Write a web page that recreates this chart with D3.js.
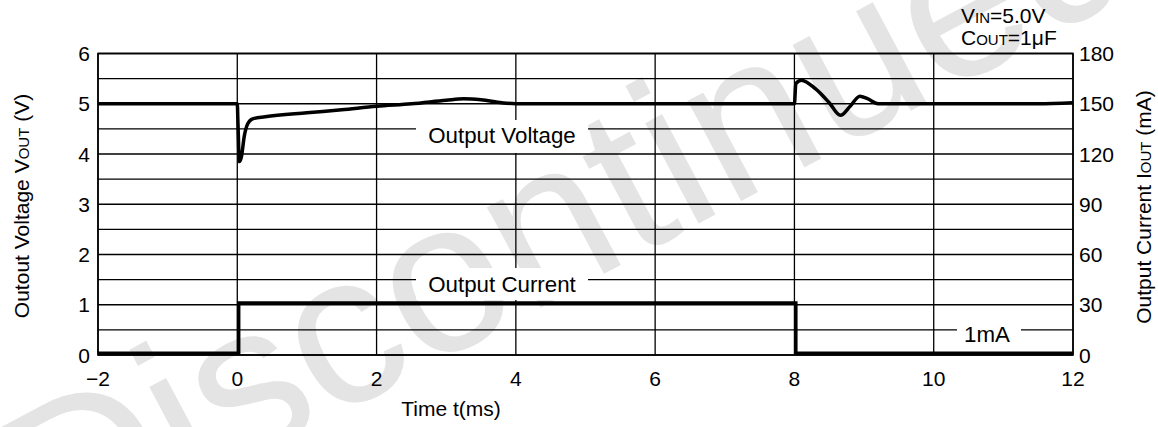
<!DOCTYPE html>
<html>
<head>
<meta charset="utf-8">
<script src="https://cdn.jsdelivr.net/npm/d3@7"></script>
<style>
  html, body { margin: 0; padding: 0; background: #fff; }
  svg { display: block; font-family: "Liberation Sans", Arial, sans-serif; }
</style>
</head>
<body>
<svg id="chart" width="1158" height="427"></svg>
<script>
// Axis ticks
const timeTicks = [-2, 0, 2, 4, 6, 8, 10, 12];
const voltTicks = [0, 1, 2, 3, 4, 5, 6];
const currTicks = [0, 30, 60, 90, 120, 150, 180];

// Output voltage trace (ms, V)
const voltTime = [-2, 0, 0.01, 0.03, 0.06, 0.1, 0.15, 0.22, 0.4, 1.0, 1.5, 2.0, 2.5, 3.0, 3.25, 3.5, 3.8, 4.0, 8.0, 8.02, 8.1, 8.3, 8.5, 8.66, 8.8, 8.94, 9.05, 9.2, 11.5, 12];
const voltValue = [5.0, 5.0, 4.6, 3.85, 3.95, 4.35, 4.6, 4.7, 4.74, 4.82, 4.88, 4.95, 5.0, 5.07, 5.1, 5.08, 5.02, 5.0, 5.0, 5.4, 5.47, 5.3, 5.02, 4.77, 4.95, 5.15, 5.1, 5.0, 5.0, 5.02];

// Output current trace (ms, mA)
const currTime = [-2, 0.02, 0.02, 8.02, 8.02, 12];
const currValue = [1, 1, 31, 31, 1, 1];

const svg = d3.select("#chart");
const plotL = 98, plotR = 1073, plotT = 53.5, plotB = 355;

const x = d3.scaleLinear().domain([-2, 12]).range([plotL, plotR]);
const yV = d3.scaleLinear().domain([0, 6]).range([plotB, plotT]);
const yI = d3.scaleLinear().domain([0, 180]).range([plotB, plotT]);

// Watermark behind the plot
svg.append("text")
  .attr("transform", "translate(575,225) rotate(-28)")
  .attr("text-anchor", "middle")
  .attr("dominant-baseline", "middle")
  .attr("font-size", 215)
  .attr("fill", "#e4e4e4")
  .text("Discontinued");

const g = svg.append("g");

// Horizontal grid every 0.5 V
const hLines = d3.range(0, 6.01, 0.5);
g.selectAll("line.h").data(hLines).join("line")
  .attr("class", "h")
  .attr("x1", plotL).attr("x2", plotR)
  .attr("y1", d => yV(d)).attr("y2", d => yV(d))
  .attr("stroke", "#000").attr("stroke-width", 1.3);

// Vertical grid at each time tick
g.selectAll("line.v").data(timeTicks).join("line")
  .attr("class", "v")
  .attr("x1", d => x(d)).attr("x2", d => x(d))
  .attr("y1", plotT).attr("y2", plotB)
  .attr("stroke", "#000").attr("stroke-width", 1.3);

// Label boxes break the grid behind the labels
const labelBoxes = [
  { text: "Output Voltage", x0: 416, x1: 588, y0: 120, y1: 153, tx: 502, ty: 143 },
  { text: "Output Current", x0: 416, x1: 588, y0: 268, y1: 300, tx: 502, ty: 292 },
  { text: "1mA", x0: 957, x1: 1021, y0: 320, y1: 346, tx: 987, ty: 342 }
];
g.selectAll("rect.lb").data(labelBoxes).join("rect")
  .attr("class", "lb")
  .attr("x", d => d.x0).attr("y", d => d.y0)
  .attr("width", d => d.x1 - d.x0).attr("height", d => d.y1 - d.y0)
  .attr("fill", "#fff");
g.selectAll("text.lb").data(labelBoxes).join("text")
  .attr("class", "lb")
  .attr("x", d => d.tx).attr("y", d => d.ty)
  .attr("text-anchor", "middle")
  .attr("font-size", 22.3)
  .text(d => d.text);

// Frame
g.append("rect")
  .attr("x", plotL).attr("y", plotT)
  .attr("width", plotR - plotL).attr("height", plotB - plotT)
  .attr("fill", "none").attr("stroke", "#000").attr("stroke-width", 1.6);

// Traces
const voltData = voltTime.map((t, i) => [t, voltValue[i]]);
const currData = currTime.map((t, i) => [t, currValue[i]]);

g.append("path")
  .datum(voltData)
  .attr("fill", "none").attr("stroke", "#000").attr("stroke-width", 3.5)
  .attr("stroke-linejoin", "round")
  .attr("d", d3.line().x(d => x(d[0])).y(d => yV(d[1])).curve(d3.curveMonotoneX));

g.append("path")
  .datum(currData)
  .attr("fill", "none").attr("stroke", "#000").attr("stroke-width", 3.5)
  .attr("d", d3.line().x(d => x(d[0])).y(d => yI(d[1])));

// Tick labels
const fs = 21;
svg.selectAll("text.xt").data(timeTicks).join("text")
  .attr("class", "xt")
  .attr("x", d => x(d)).attr("y", 386)
  .attr("text-anchor", "middle").attr("font-size", fs)
  .text(d => d < 0 ? "\u2212" + Math.abs(d) : d);

svg.selectAll("text.yl").data(voltTicks).join("text")
  .attr("class", "yl")
  .attr("x", 90).attr("y", d => yV(d) + 7.5)
  .attr("text-anchor", "end").attr("font-size", fs)
  .text(d => d);

svg.selectAll("text.yr").data(currTicks).join("text")
  .attr("class", "yr")
  .attr("x", 1079).attr("y", d => yI(d) + 7.5)
  .attr("text-anchor", "start").attr("font-size", fs)
  .text(d => d);

// Axis titles
svg.append("text")
  .attr("x", 451).attr("y", 416)
  .attr("text-anchor", "middle").attr("font-size", fs)
  .text("Time t(ms)");

const lt = svg.append("text")
  .attr("transform", "translate(29,206) rotate(-90)")
  .attr("text-anchor", "middle").attr("font-size", fs);
lt.append("tspan").text("Outout Voltage V");
lt.append("tspan").attr("font-size", 15).text("OUT");
lt.append("tspan").text(" (V)");

const rt = svg.append("text")
  .attr("transform", "translate(1151,207) rotate(-90)")
  .attr("text-anchor", "middle").attr("font-size", fs);
rt.append("tspan").text("Output Current I");
rt.append("tspan").attr("font-size", 15).text("OUT");
rt.append("tspan").text(" (mA)");

// Conditions
const c1 = svg.append("text").attr("x", 961).attr("y", 23).attr("font-size", fs);
c1.append("tspan").text("V");
c1.append("tspan").attr("font-size", 15).text("IN");
c1.append("tspan").text("=5.0V");
const c2 = svg.append("text").attr("x", 961).attr("y", 44.5).attr("font-size", fs);
c2.append("tspan").text("C");
c2.append("tspan").attr("font-size", 15).text("OUT");
c2.append("tspan").text("=1\u03bcF");
</script>
</body>
</html>
